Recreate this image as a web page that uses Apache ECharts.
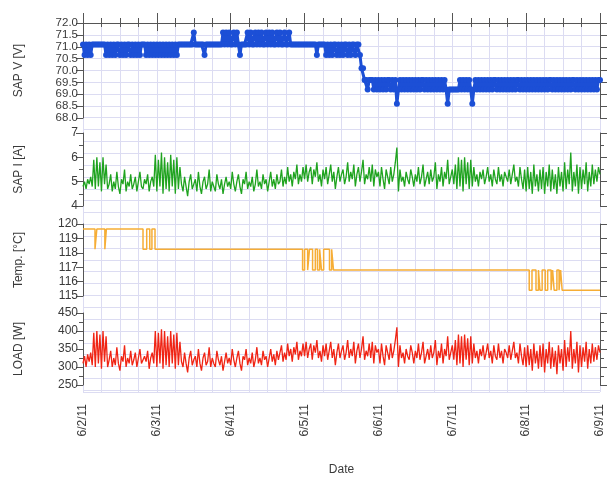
<!DOCTYPE html>
<html>
<head>
<meta charset="utf-8">
<script src="https://cdn.jsdelivr.net/npm/echarts@6/dist/echarts.min.js"></script>
<style>
  html, body { margin: 0; padding: 0; background: #ffffff; }
  #chart { width: 609px; height: 481px; }
</style>
</head>
<body>
<div id="chart"></div>
<script>
// Date tick labels, one per day (axis runs in hours from 6/2/11 00:00)
const dayLabels = ['6/2/11', '6/3/11', '6/4/11', '6/5/11', '6/6/11', '6/7/11', '6/8/11', '6/9/11'];
// Samples are every half hour
const sampleHours = 0.5;

// SAP voltage [V]
const sapV = [
  71.1,70.65,71.1,70.65,71.1,70.65,71.1,71.1,71.1,71.1,71.1,71.1,
  71.1,71.1,71.1,70.65,71.1,70.65,71.1,70.65,71.1,70.65,71.1,71.1,
  70.65,71.1,70.65,71.1,70.65,71.1,71.1,70.65,71.1,70.65,71.1,70.65,
  71.1,70.65,71.1,71.1,71.1,70.65,71.1,70.65,71.1,70.65,71.1,70.65,
  71.1,70.65,71.1,70.65,71.1,70.65,71.1,70.65,71.1,70.65,71.1,70.65,
  71.1,70.65,71.1,71.1,71.1,71.1,71.1,71.1,71.1,71.1,71.1,71.1,
  71.6,71.1,71.1,71.1,71.1,71.1,71.1,70.65,71.1,71.1,71.1,71.1,
  71.1,71.1,71.1,71.1,71.1,71.1,71.1,71.6,71.1,71.6,71.1,71.6,
  71.1,71.1,71.6,71.1,71.6,71.1,70.65,71.1,71.1,71.1,71.1,71.6,
  71.1,71.6,71.1,71.1,71.6,71.1,71.6,71.1,71.6,71.1,71.1,71.6,
  71.1,71.6,71.1,71.6,71.1,71.1,71.6,71.1,71.6,71.1,71.1,71.6,
  71.1,71.1,71.6,71.1,71.1,71.1,71.1,71.1,71.1,71.1,71.1,71.1,
  71.1,71.1,71.1,71.1,71.1,71.1,71.1,71.1,70.65,71.1,71.1,71.1,
  71.1,71.1,70.65,71.1,70.65,71.1,70.65,71.1,71.1,70.65,71.1,70.65,
  71.1,70.65,71.1,71.1,70.65,71.1,70.65,71.1,71.1,70.65,71.1,71.1,
  70.65,70.1,70.1,69.6,69.6,69.2,69.6,69.6,69.6,69.2,69.6,69.2,
  69.6,69.2,69.6,69.2,69.6,69.2,69.6,69.6,69.2,69.6,69.2,69.6,
  68.6,69.2,69.6,69.2,69.6,69.2,69.6,69.2,69.6,69.2,69.6,69.2,
  69.6,69.2,69.6,69.2,69.6,69.6,69.2,69.6,69.2,69.6,69.2,69.6,
  69.2,69.6,69.2,69.6,69.2,69.6,69.2,69.6,69.2,68.6,69.2,69.2,
  69.2,69.2,69.2,69.2,69.2,69.6,69.2,69.6,69.2,69.6,69.2,69.6,
  69.2,68.6,69.2,69.6,69.2,69.6,69.2,69.6,69.2,69.6,69.2,69.6,
  69.2,69.6,69.2,69.6,69.6,69.2,69.6,69.2,69.6,69.2,69.6,69.2,
  69.6,69.2,69.6,69.2,69.6,69.2,69.6,69.6,69.2,69.6,69.2,69.6,
  69.2,69.6,69.2,69.6,69.2,69.6,69.2,69.6,69.2,69.6,69.2,69.6,
  69.2,69.6,69.2,69.6,69.6,69.2,69.6,69.2,69.6,69.2,69.6,69.2,
  69.6,69.2,69.6,69.2,69.6,69.2,69.6,69.6,69.2,69.6,69.2,69.6,
  69.2,69.6,69.2,69.6,69.2,69.6,69.2,69.6,69.2,69.6,69.2,69.6,
  69.6
];

// SAP current [A]
const sapI = [
  4.8,5.0,4.7,5.1,4.9,5.2,4.8,5.9,4.7,6.0,4.8,5.8,
  4.6,6.0,4.9,5.7,4.7,4.9,5.3,4.6,5.0,4.7,5.4,4.8,
  4.5,5.1,4.9,5.5,4.6,5.0,4.8,5.3,4.7,4.9,5.2,4.6,
  5.0,5.4,4.8,4.7,5.1,4.9,5.3,4.6,5.0,5.2,4.8,6.1,
  4.6,5.9,4.8,6.2,4.5,6.0,4.7,5.8,4.6,6.1,4.8,5.9,
  4.5,6.0,4.7,5.6,4.9,4.6,5.2,4.8,4.4,5.0,5.3,4.7,
  4.9,5.1,4.6,5.4,4.8,4.5,5.0,5.2,4.7,4.9,5.5,4.6,
  5.0,4.8,4.6,5.3,4.9,4.7,5.1,4.5,4.9,5.2,4.8,5.0,
  4.7,5.4,4.9,4.6,5.0,5.3,4.8,4.5,5.1,4.9,5.4,4.7,
  5.0,4.8,5.2,4.6,4.9,5.5,4.8,5.0,4.7,5.3,4.9,5.1,
  4.6,5.0,5.4,4.8,5.1,4.7,5.3,4.9,5.0,5.5,4.8,5.2,
  4.9,5.6,5.0,5.3,4.8,5.4,5.1,5.7,4.9,5.3,5.0,5.6,
  5.1,5.7,5.0,5.4,5.6,4.9,5.5,5.2,5.8,5.0,5.3,4.8,
  5.5,5.1,5.6,4.9,5.3,5.7,5.0,5.4,4.7,5.2,5.6,5.0,
  5.3,5.5,4.9,5.2,5.8,5.0,5.4,5.1,5.7,4.8,5.3,5.6,
  5.0,5.4,5.9,4.9,5.3,5.1,5.6,5.0,5.7,4.8,5.5,5.2,
  5.4,4.8,5.6,5.1,4.7,5.5,5.2,4.9,5.6,5.0,5.3,5.8,
  6.4,4.6,5.5,5.0,5.2,4.8,5.4,5.1,4.9,5.5,5.2,4.8,
  5.3,5.0,5.6,4.9,5.2,5.7,4.8,5.1,5.4,4.9,5.5,5.0,
  5.2,5.8,4.7,5.3,5.0,5.6,4.8,5.4,5.1,5.9,4.9,5.2,
  5.5,4.9,5.7,4.7,6.0,4.8,5.9,4.6,6.0,4.9,5.8,4.7,
  5.9,4.8,5.6,5.0,5.3,4.8,5.4,5.1,5.5,4.9,5.2,5.6,
  5.0,5.3,4.8,5.5,5.1,4.9,5.6,5.0,5.3,4.8,5.4,5.2,
  5.0,5.5,4.9,5.3,5.7,5.0,5.2,4.8,5.6,5.1,4.7,5.5,
  4.6,5.6,4.7,5.4,4.5,5.7,4.8,5.3,4.6,5.5,4.7,5.6,
  4.5,5.4,4.8,5.7,4.6,5.5,4.7,5.3,4.5,5.6,4.8,5.4,
  4.6,5.8,4.7,5.5,4.9,6.2,4.6,5.4,4.8,5.7,4.5,5.6,
  4.7,5.5,4.9,5.8,4.6,5.4,4.8,5.7,4.9,5.5,5.0,5.6,
  5.3
];

// Load power [W]
const loadW = [
  310,330,300,335,315,340,305,395,300,400,310,390,
  295,400,315,385,300,320,345,300,325,305,355,310,
  290,330,315,360,300,325,310,345,305,320,340,300,
  325,350,310,305,330,315,345,295,325,340,310,400,
  300,395,310,405,295,400,305,385,300,400,310,390,
  295,395,305,370,315,300,340,310,285,325,345,305,
  320,330,300,350,310,290,325,340,305,315,355,300,
  325,310,300,345,320,305,330,290,315,340,310,325,
  305,350,320,300,325,345,310,290,330,320,350,305,
  325,310,340,300,320,355,310,325,305,345,320,330,
  300,325,350,315,335,305,345,320,325,360,315,340,
  320,365,330,350,315,355,335,370,320,345,330,365,
  330,370,325,350,365,320,360,340,375,325,345,315,
  360,330,365,320,345,370,325,350,305,340,365,325,
  345,360,320,340,375,325,350,330,370,310,345,365,
  325,350,385,320,345,330,365,325,370,310,360,340,
  350,310,365,330,305,360,340,320,365,325,345,375,
  410,300,360,325,340,310,350,330,320,360,340,310,
  345,325,365,320,340,370,310,330,350,320,360,325,
  340,375,305,345,325,365,310,350,330,385,320,340,
  360,320,375,305,390,310,385,300,390,320,380,305,
  385,310,365,325,345,310,350,330,360,320,340,365,
  325,345,310,360,330,320,365,325,345,310,350,340,
  325,360,320,345,370,325,340,310,365,330,305,355,
  300,360,305,350,290,365,310,345,295,360,300,365,
  285,350,310,370,295,355,300,345,280,360,310,350,
  290,375,300,355,315,400,295,350,310,370,285,360,
  300,355,315,370,295,350,310,365,315,355,320,360,
  340
];

// Temperature [°C]: hour at which each new level starts, and that level
const tempHours = [
  0, 3.9, 4.5, 7.1, 7.6, 19.5, 20.7, 21.7, 22.4, 23.4,
  71.35, 72.0, 73.0, 73.6, 74.6, 75.5, 76.2, 76.9, 77.5, 78.2, 80.1, 80.8, 81.4,
  145.0, 145.9, 147.2, 148.0, 148.5, 149.2, 150.2, 151.0, 152.1, 152.6, 153.1, 154.0, 154.7, 155.2, 155.7,
  168
];
const tempValues = [
  119.65, 118.25, 119.65, 118.25, 119.65, 118.25, 119.65, 118.25, 119.65, 118.25,
  116.8, 118.25, 116.8, 118.25, 116.8, 118.25, 116.8, 118.25, 116.8, 118.25, 116.8, 118.25, 116.8,
  115.4, 116.8, 115.4, 116.8, 115.4, 116.8, 115.4, 116.8, 115.4, 116.8, 115.4, 116.8, 115.4, 116.8, 115.4,
  115.4
];

const FONT = 'Liberation Sans';
const AXIS_COLOR = '#555555';
const GRID_COLOR = '#dcdcf2';
const TEXT_COLOR = '#3a3a3a';

const toSeries = arr => arr.map((v, i) => [i * sampleHours, v]);
const tempSeries = tempHours.map((h, i) => [h, tempValues[i]]);

// Plot panels: [top, height] in px
const panels = [
  { top: 23, height: 95 },
  { top: 133, height: 73 },
  { top: 224, height: 72 },
  { top: 313, height: 72 }
];
const LEFT = 83, WIDTH = 517;

const grids = [{ left: LEFT, top: 23, width: WIDTH, height: 370 }]
  .concat(panels.map(p => ({ left: LEFT, top: p.top, width: WIDTH, height: p.height })));

const hiddenX = gi => ({
  type: 'value', gridIndex: gi, min: 0, max: 168, show: false
});

const xAxes = [
  {
    type: 'value', gridIndex: 0, min: 0, max: 168, interval: 24, position: 'bottom',
    name: 'Date', nameLocation: 'middle', nameGap: 72,
    nameTextStyle: { fontFamily: FONT, fontSize: 12, color: TEXT_COLOR },
    axisLine: { show: true, lineStyle: { color: AXIS_COLOR, width: 1 } },
    axisTick: { show: true, inside: false, length: 8, lineStyle: { color: AXIS_COLOR } },
    minorTick: { show: true, splitNumber: 4, length: 4, lineStyle: { color: AXIS_COLOR } },
    axisLabel: {
      rotate: 90, margin: 12, fontFamily: FONT, fontSize: 12, color: TEXT_COLOR,
      formatter: v => dayLabels[Math.round(v / 24)]
    },
    splitLine: { show: true, lineStyle: { color: GRID_COLOR, width: 1 } },
    minorSplitLine: { show: true, lineStyle: { color: GRID_COLOR, width: 1 } }
  },
  {
    type: 'value', gridIndex: 0, min: 0, max: 168, interval: 24, position: 'top',
    axisLine: { show: true, lineStyle: { color: AXIS_COLOR, width: 1 } },
    axisTick: { show: true, inside: false, length: 10, lineStyle: { color: AXIS_COLOR } },
    minorTick: { show: true, splitNumber: 4, length: 5, lineStyle: { color: AXIS_COLOR } },
    axisLabel: { show: false },
    splitLine: { show: false }
  },
  hiddenX(1), hiddenX(2), hiddenX(3), hiddenX(4)
];

function leftY(gi, min, max, interval, name, minorSplit, digits, fontSize) {
  return {
    type: 'value', gridIndex: gi, min: min, max: max, interval: interval, position: 'left',
    name: name, nameLocation: 'middle', nameGap: 58, nameRotate: 90,
    nameTextStyle: { fontFamily: FONT, fontSize: 12, color: TEXT_COLOR },
    axisLine: { show: true, lineStyle: { color: AXIS_COLOR, width: 1 } },
    axisTick: { show: true, inside: false, length: 7, lineStyle: { color: AXIS_COLOR } },
    minorTick: { show: minorSplit > 0, splitNumber: minorSplit || 1, length: 4, lineStyle: { color: AXIS_COLOR } },
    axisLabel: {
      margin: 5, fontFamily: FONT, fontSize: fontSize, color: TEXT_COLOR,
      formatter: v => v.toFixed(digits)
    },
    splitLine: { show: false }
  };
}
function rightY(gi, min, max, interval, minorSplit) {
  return {
    type: 'value', gridIndex: gi, min: min, max: max, interval: interval, position: 'right',
    axisLine: { show: true, lineStyle: { color: AXIS_COLOR, width: 1 } },
    axisTick: { show: true, inside: false, length: 7, lineStyle: { color: AXIS_COLOR } },
    minorTick: { show: minorSplit > 0, splitNumber: minorSplit || 1, length: 4, lineStyle: { color: AXIS_COLOR } },
    axisLabel: { show: false },
    splitLine: { show: false }
  };
}

const yAxes = [
  // background horizontal grid lines
  {
    type: 'value', gridIndex: 0, min: 0, max: 370 / 11.875, interval: 1, inverse: true,
    axisLine: { show: false }, axisTick: { show: false }, axisLabel: { show: false },
    splitLine: { show: true, lineStyle: { color: GRID_COLOR, width: 1 } }
  },
  leftY(1, 68, 72, 0.5, 'SAP V [V]', 0, 1, 11.5),
  leftY(2, 4, 7, 1, 'SAP I [A]', 2, 0, 12),
  leftY(3, 115, 120, 1, 'Temp. [°C]', 0, 0, 12),
  leftY(4, 250, 450, 50, 'LOAD [W]', 2, 0, 12),
  rightY(1, 68, 72, 0.5, 0),
  rightY(2, 4, 7, 1, 2),
  rightY(3, 115, 120, 1, 0),
  rightY(4, 250, 450, 50, 2)
];

const option = {
  animation: false,
  backgroundColor: '#ffffff',
  grid: grids,
  xAxis: xAxes,
  yAxis: yAxes,
  series: [
    {
      type: 'line', xAxisIndex: 2, yAxisIndex: 1, data: toSeries(sapV),
      symbol: 'circle', symbolSize: 6, showSymbol: true,
      itemStyle: { color: '#1c4fd6' },
      lineStyle: { color: '#1c4fd6', width: 3 }
    },
    {
      type: 'line', xAxisIndex: 3, yAxisIndex: 2, data: toSeries(sapI),
      symbol: 'none', lineStyle: { color: '#1fa31f', width: 1.3 }
    },
    {
      type: 'line', xAxisIndex: 4, yAxisIndex: 3, data: tempSeries, step: 'end',
      symbol: 'none', lineStyle: { color: '#f6ad35', width: 1.5 }
    },
    {
      type: 'line', xAxisIndex: 5, yAxisIndex: 4, data: toSeries(loadW),
      symbol: 'none', lineStyle: { color: '#f02414', width: 1.3 }
    }
  ]
};

const chart = echarts.init(document.getElementById('chart'), null, { renderer: 'canvas' });
chart.setOption(option);
</script>
</body>
</html>
